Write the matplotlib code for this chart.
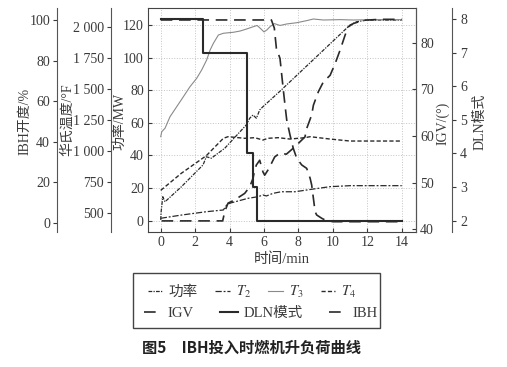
import matplotlib
matplotlib.use("Agg")
import matplotlib.pyplot as plt
from matplotlib.patches import Rectangle

plt.rcParams['font.family'] = ['Liberation Serif', 'Noto Sans CJK SC']
plt.rcParams['mathtext.fontset'] = 'stix'
plt.rcParams['axes.unicode_minus'] = False

# ---- data ----
t_power = [0, 0.02, 0.12, 0.25, 1.2, 2.46, 2.65, 2.94, 3.72, 4.97, 5.17, 5.36, 5.56, 5.75, 5.94, 6.93, 11.0, 11.4, 12.0, 13.0, 14.0]
power = [0.5, 5, 14.7, 11.6, 20.8, 34.2, 39.2, 38.3, 44.4, 58.7, 62.8, 64.8, 62.8, 67.9, 69.9, 79.4, 120, 122, 123, 123, 123]

t_t2 = [0, 1.2, 2.65, 3.64, 3.83, 4.0, 5.07, 5.65, 5.94, 6.14, 6.52, 7.0, 7.8, 8.87, 9.84, 11.0, 14.0]
t2 = [455, 481, 508, 522, 562, 576, 616, 629, 643, 635, 656, 669, 669, 691, 710, 718, 718]

t_t3 = [0, 0.06, 0.25, 0.54, 0.93, 1.32, 1.70, 2.09, 2.38, 2.67, 2.87, 3.06, 3.35, 3.64, 4.22, 4.61,
        5.0, 5.38, 5.6, 5.8, 6.0, 6.16, 6.35, 6.6, 6.93, 7.32, 7.9, 8.48, 8.87, 9.45, 10.42, 11.19, 12.35, 14.0]
t3 = [1113, 1153, 1181, 1274, 1355, 1436, 1516, 1584, 1651, 1732, 1812, 1866, 1933, 1947, 1955, 1965,
      1982, 2000, 2010, 1985, 1958, 1973, 2000, 2025, 2010, 2022, 2032, 2049, 2062, 2054, 2057, 2054, 2057, 2057]

t_t4 = [0, 1.2, 2.65, 3.64, 3.91, 4.88, 5.46, 5.94, 6.23, 6.82, 7.51, 8.38, 8.68, 9.84, 11.0, 14.0]
t4 = [680, 818, 960, 1100, 1113, 1100, 1105, 1086, 1100, 1105, 1094, 1105, 1113, 1094, 1078, 1078]

t_igv = [0.05, 3.6, 3.72, 3.91, 4.3, 4.88, 5.17, 5.36, 5.46, 5.56, 5.75, 5.94, 6.04, 6.23, 6.43, 6.62,
         6.91, 7.3, 7.8, 8.38, 8.48, 8.77, 8.87, 9.16, 9.45, 9.84, 10.13, 10.42, 10.71, 10.9, 11.19, 11.77, 12.74, 14.0]
igv = [41.8, 41.8, 43.8, 45.6, 46.3, 47.7, 49.1, 50.9, 52.7, 53.8, 54.8, 52.3, 51.6, 52.7, 54.1, 55.5,
       56.3, 56.1, 57.7, 59.8, 61.6, 64.5, 66.6, 69.5, 71.6, 73.0, 75.5, 78.4, 81.6, 83.4, 84.1, 84.8, 85.0, 85.0]

t_dln = [0, 2.44, 5.03, 5.38, 5.62, 14.0]
dln = [8, 7, 4, 3, 2, 2]

t_ibh = [0, 6.43, 6.6, 6.72, 6.93, 7.11, 7.22, 7.32, 7.51, 7.70, 7.90, 8.19, 8.48, 8.68, 8.77,
         8.97, 9.06, 9.35, 9.55, 10.0, 14.0]
ibh = [100, 100, 96, 86, 81, 66.5, 58, 50.7, 43.3, 36.7, 31.8, 28.5, 26.8, 21.9, 18.6,
       5.4, 3.8, 2.2, 1.3, 0.5, 0.5]

x_ticks = [0, 2, 4, 6, 8, 10, 12, 14]
power_ticks = [0, 20, 40, 60, 80, 100, 120]
temp_ticks = [500, 750, 1000, 1250, 1500, 1750, 2000]
ibh_ticks = [0, 20, 40, 60, 80, 100]
igv_ticks = [40, 50, 60, 70, 80]
dln_ticks = [2, 3, 4, 5, 6, 7, 8]

W, H = 507, 367
tc = '#3a3a3a'
lc = '#2a2a2a'

fig = plt.figure(figsize=(W / 100, H / 100), dpi=100)
ax = fig.add_axes([148 / W, 1 - 232 / H, 268 / W, 224 / H])


def fx(px):
    return px / W


def fy(py):
    return 1 - py / H


def only_spine(a, name, pos):
    for s in a.spines.values():
        s.set_visible(False)
    a.spines[name].set_visible(True)
    a.spines[name].set_position(('axes', pos))
    a.spines[name].set_color('#555555')
    a.patch.set_visible(False)


# power (main axes)
h_pow, = ax.plot(t_power, power, color=lc, lw=0.9, dashes=(3, 1, 1, 1))
ax.set_xlim(-0.738, 14.83)
ax.set_ylim(-6.93, 130.4)
ax.set_xticks(x_ticks)
ax.set_yticks(power_ticks)
ax.grid(True, color='#c4c4c4', linestyle=':', linewidth=0.7)
ax.tick_params(direction='in', length=3, labelsize=10, colors=tc, pad=3)
for s in ax.spines.values():
    s.set_color('#444444')

# temperature axis
ax_t = ax.twinx()
only_spine(ax_t, 'left', -0.138)
ax_t.yaxis.tick_left()
h_t2, = ax_t.plot(t_t2, t2, color=lc, lw=0.9, dashes=(5, 1.5, 1.5, 1.5))
h_t3, = ax_t.plot(t_t3, t3, color='#8a8a8a', lw=0.8)
h_t4, = ax_t.plot(t_t4, t4, color=lc, lw=1.0, dashes=(3, 1.6))
ax_t.set_ylim(344.4, 2150.8)
ax_t.set_yticks(temp_ticks)
ax_t.set_yticklabels([f"{v:,}".replace(",", " ") for v in temp_ticks])
ax_t.tick_params(direction='out', length=3, labelsize=10, colors=tc, pad=2)

# IBH axis
ax_i = ax.twinx()
only_spine(ax_i, 'left', -0.3396)
ax_i.yaxis.tick_left()
h_ibh, = ax_i.plot(t_ibh, ibh, color=lc, lw=1.2, dashes=(7, 4))
ax_i.set_ylim(-4.59, 105.9)
ax_i.set_yticks(ibh_ticks)
ax_i.tick_params(direction='out', length=3, labelsize=10, colors=tc, pad=2)

# IGV axis
ax_g = ax.twinx()
only_spine(ax_g, 'right', 1.0)
h_igv, = ax_g.plot(t_igv, igv, color=lc, lw=1.2, dashes=(7, 4))
ax_g.set_ylim(39.42, 87.43)
ax_g.set_yticks(igv_ticks)
ax_g.tick_params(direction='in', length=3, labelsize=10, colors=tc, pad=3)

# DLN axis
ax_d = ax.twinx()
only_spine(ax_d, 'right', 1.134)
h_dln, = ax_d.plot(t_dln, dln, color=lc, lw=1.5, drawstyle='steps-post')
ax_d.set_ylim(1.66, 8.33)
ax_d.set_yticks(dln_ticks)
ax_d.tick_params(direction='out', length=3, labelsize=10, colors=tc, pad=3)

# axis titles
fig.text(fx(25), fy(121), 'IBH开度/%', rotation=90, ha='center', va='center', fontsize=10, color=tc)
fig.text(fx(67), fy(120), '华氏温度/°F', rotation=90, ha='center', va='center', fontsize=10, color=tc)
fig.text(fx(120), fy(121), '功率/MW', rotation=90, ha='center', va='center', fontsize=10, color=tc)
fig.text(fx(443), fy(123), 'IGV/(°)', rotation=90, ha='center', va='center', fontsize=10, color=tc)
fig.text(fx(480), fy(122), 'DLN模式', rotation=90, ha='center', va='center', fontsize=10, color=tc)
fig.text(fx(282), fy(259), '时间/min', ha='center', va='center', fontsize=10.5, color=tc)

# legend box with two rows
fig.add_artist(Rectangle((fx(133), fy(328)), 247 / W, 55 / H, transform=fig.transFigure,
                         fill=False, edgecolor='#444444', lw=1.0))
fig.legend([h_pow, h_t2, h_t3, h_t4], ['功率', '$T_2$', '$T_3$', '$T_4$'], ncol=4, loc='center',
           bbox_to_anchor=(fx(252), fy(292)), frameon=False, handlelength=1.0, handletextpad=0.4,
           columnspacing=1.2, fontsize=10.5, labelcolor=tc, borderpad=0)
fig.legend([h_igv, h_dln, h_ibh], ['IGV', 'DLN模式', 'IBH'], ncol=3, loc='center',
           bbox_to_anchor=(fx(261), fy(313)), frameon=False, handlelength=1.2, handletextpad=0.4,
           columnspacing=1.8, fontsize=10.5, labelcolor=tc, borderpad=0)

fig.text(fx(252), fy(348), '图5\u3000IBH投入时燃机升负荷曲线', ha='center', va='center', fontsize=11,
         fontweight='bold', family=['Noto Sans CJK SC'], color='#222222')

fig.savefig('out.png', dpi=100)
